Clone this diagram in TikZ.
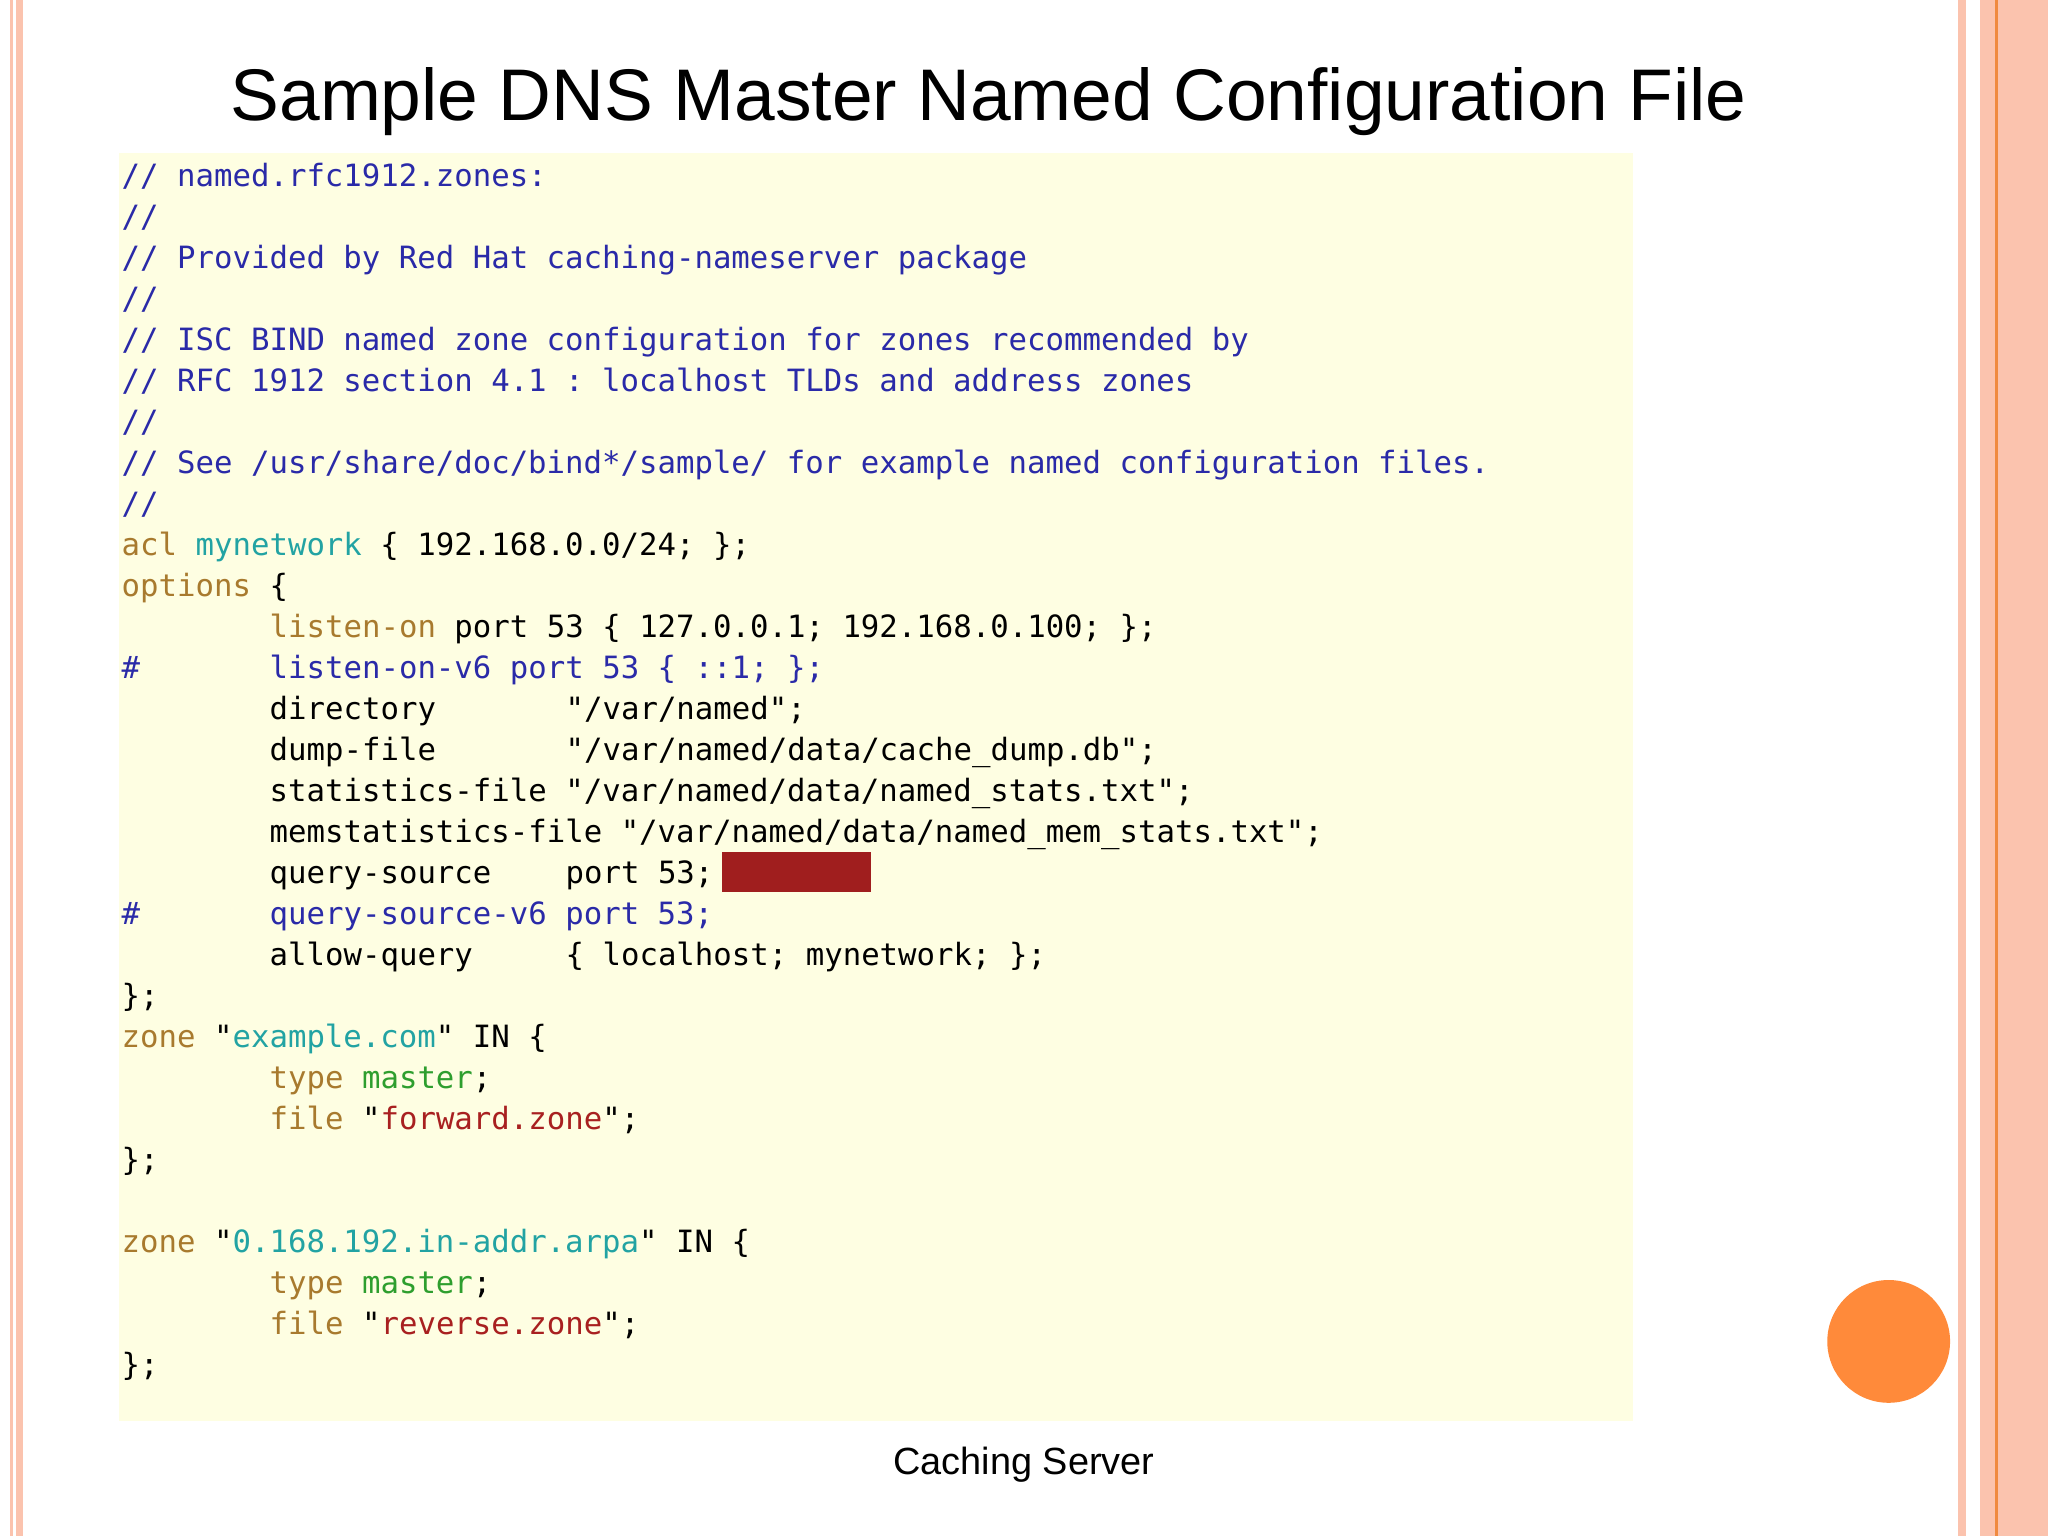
\documentclass[tikz,border=0pt]{standalone}
\usepackage{fontspec}
\setmainfont{Liberation Sans}
\setmonofont{DejaVu Sans Mono}
\definecolor{salmon}{HTML}{FBC3AE}
\definecolor{orline}{HTML}{F08A40}
\definecolor{codebg}{HTML}{FEFEE2}
\definecolor{cm}{HTML}{2A2AA8}
\definecolor{kw}{HTML}{A87A2E}
\definecolor{tl}{HTML}{22A3A3}
\definecolor{gr}{HTML}{2E9E2E}
\definecolor{st}{HTML}{A82020}
\definecolor{blob}{HTML}{FF8A3A}
\newcommand\cmt[1]{\textcolor{cm}{#1}}
\newcommand\kwd[1]{\textcolor{kw}{#1}}
\newcommand\tel[1]{\textcolor{tl}{#1}}
\newcommand\grn[1]{\textcolor{gr}{#1}}
\newcommand\strg[1]{\textcolor{st}{#1}}
\newcommand\cl[4]{\node[code] (#1) at ({93+#3*14.16pt},{-(143+#2*31.37)*1pt}) {#4};}
\tikzset{code/.style={anchor=base west,inner sep=0pt,font=\fontsize{23.5}{24}\ttfamily}}
\begin{document}
\begin{tikzpicture}[x=1pt,y=-1pt]
\useasboundingbox (0,0) rectangle (1568,1176);
\fill[white] (0,0) rectangle (1568,1176);
\fill[salmon] (7.7,0) rectangle (10,1176);
\fill[salmon] (12,0) rectangle (17.6,1176);
\fill[salmon] (1499,0) rectangle (1505,1176);
\fill[salmon] (1516,0) rectangle (1568,1176);
\fill[orline] (1527.5,0) rectangle (1529.5,1176);
\node[font=\fontsize{56}{60}\selectfont,anchor=base] (title) at (757,92) {Sample DNS Master Named Configuration File};
\fill[codebg] (91,117) rectangle (1250,1088);
\cl{l0}{0}{0}{\cmt{//~named.rfc1912.zones:}}
\cl{l1}{1}{0}{\cmt{//}}
\cl{l2}{2}{0}{\cmt{//~Provided~by~Red~Hat~caching-nameserver~package}}
\cl{l3}{3}{0}{\cmt{//}}
\cl{l4}{4}{0}{\cmt{//~ISC~BIND~named~zone~configuration~for~zones~recommended~by}}
\cl{l5}{5}{0}{\cmt{//~RFC~1912~section~4.1~:~localhost~TLDs~and~address~zones}}
\cl{l6}{6}{0}{\cmt{//}}
\cl{l7}{7}{0}{\cmt{//~See~/usr/share/doc/bind*/sample/~for~example~named~configuration~files.}}
\cl{l8}{8}{0}{\cmt{//}}
\cl{l9}{9}{0}{\kwd{acl}~\tel{mynetwork}~\{~192.168.0.0/24;~\};}
\cl{l10}{10}{0}{\kwd{options}~\{}
\cl{l11}{11}{8}{\kwd{listen-on}~port~53~\{~127.0.0.1;~192.168.0.100;~\};}
\cl{l12a}{12}{0}{\cmt{\#}}
\cl{l12}{12}{8}{\cmt{listen-on-v6~port~53~\{~::1;~\};}}
\cl{l13}{13}{8}{directory}
\cl{l13b}{13}{24}{"/var/named";}
\cl{l14}{14}{8}{dump-file}
\cl{l14b}{14}{24}{"/var/named/data/cache\_dump.db";}
\cl{l15}{15}{8}{statistics-file~"/var/named/data/named\_stats.txt";}
\cl{l16}{16}{8}{memstatistics-file~"/var/named/data/named\_mem\_stats.txt";}
\cl{l17}{17}{8}{query-source}
\cl{l17b}{17}{24}{port~53;}
\fill[st!95!black] (553,652) rectangle (667,683);
\cl{l18a}{18}{0}{\cmt{\#}}
\cl{l18}{18}{8}{\cmt{query-source-v6~port~53;}}
\cl{l19}{19}{8}{allow-query}
\cl{l19b}{19}{24}{\{~localhost;~mynetwork;~\};}
\cl{l20}{20}{0}{\};}
\cl{l21}{21}{0}{\kwd{zone}~"\tel{example.com}"~IN~\{}
\cl{l22}{22}{8}{\kwd{type}~\grn{master};}
\cl{l23}{23}{8}{\kwd{file}~"\strg{forward.zone}";}
\cl{l24}{24}{0}{\};}
\cl{l26}{26}{0}{\kwd{zone}~"\tel{0.168.192.in-addr.arpa}"~IN~\{}
\cl{l27}{27}{8}{\kwd{type}~\grn{master};}
\cl{l28}{28}{8}{\kwd{file}~"\strg{reverse.zone}";}
\cl{l29}{29}{0}{\};}
\fill[blob] (1446,1027) circle (47);
\node[font=\fontsize{29}{32}\selectfont,anchor=base] (cap) at (784,1129) {Caching Server};
\end{tikzpicture}
\end{document}
